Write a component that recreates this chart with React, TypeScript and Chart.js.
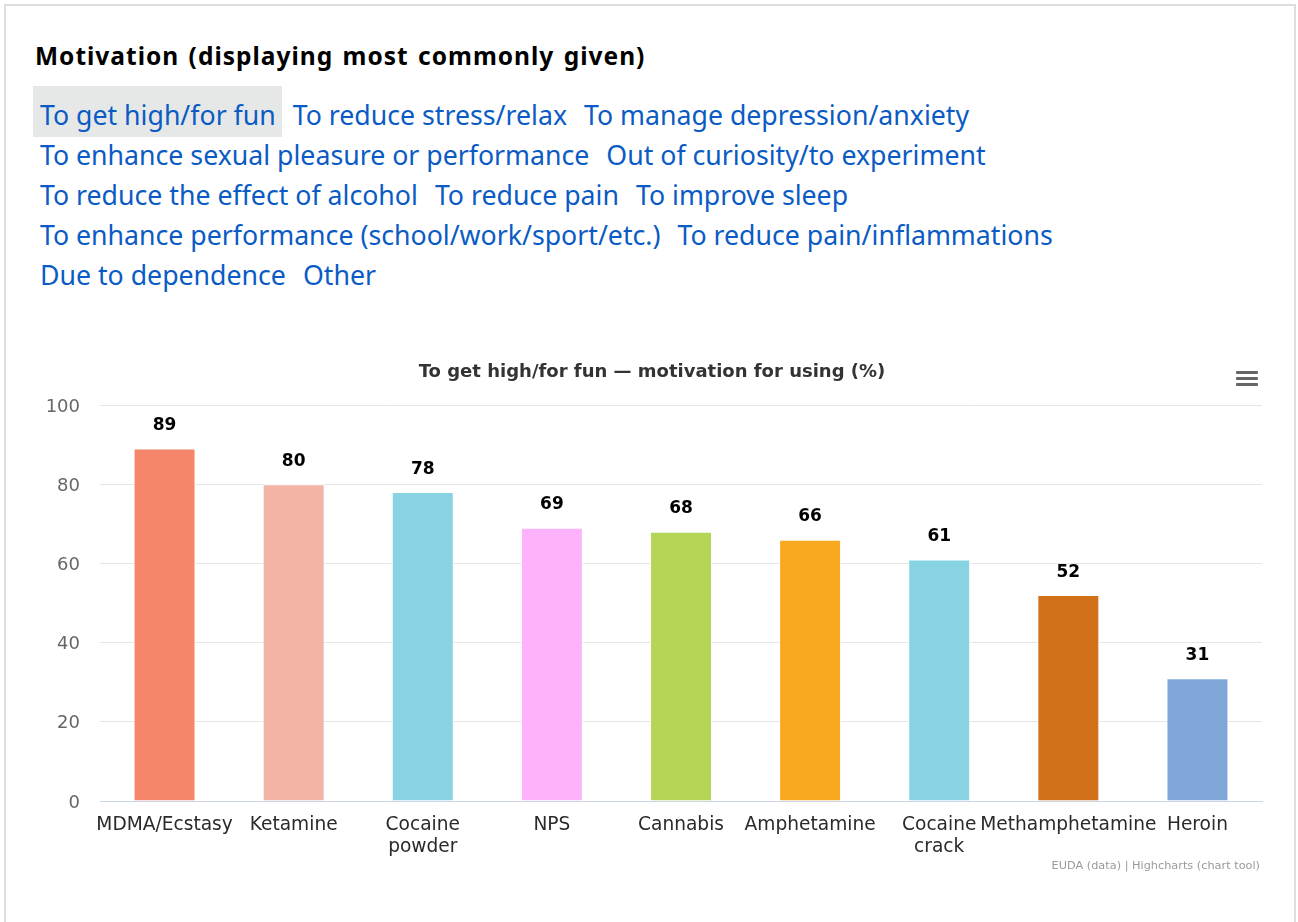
import React, { useEffect, useRef } from "react";
import { Chart, registerables } from "chart.js";

Chart.register(...registerables);

const pageTitle = "Motivation (displaying most commonly given)";
const motivationLines: string[][] = [
  ["To get high/for fun", "To reduce stress/relax", "To manage depression/anxiety"],
  ["To enhance sexual pleasure or performance", "Out of curiosity/to experiment"],
  ["To reduce the effect of alcohol", "To reduce pain", "To improve sleep"],
  ["To enhance performance (school/work/sport/etc.)", "To reduce pain/inflammations"],
  ["Due to dependence", "Other"],
];
const activeMotivation = "To get high/for fun";

const chartTitle = "To get high/for fun \u2014 motivation for using (%)";
const categories: (string | string[])[] = [
  "MDMA/Ecstasy",
  "Ketamine",
  ["Cocaine", "powder"],
  "NPS",
  "Cannabis",
  "Amphetamine",
  ["Cocaine", "crack"],
  "Methamphetamine",
  "Heroin",
];
const values: number[] = [89, 80, 78, 69, 68, 66, 61, 52, 31];
const barColors: string[] = [
  "#f5866a",
  "#f3b4a6",
  "#88d3e2",
  "#fdb2fc",
  "#b5d556",
  "#f9a91f",
  "#88d3e2",
  "#d1711a",
  "#7ea7d8",
];
const yTicks: number[] = [0, 20, 40, 60, 80, 100];
const creditText = "EUDA (data) | Highcharts (chart tool)";

const CANVAS_LEFT = 20;
const CANVAS_TOP = 345;
const CANVAS_W = 1260;
const CANVAS_H = 540;

const overlayPlugin = {
  id: "overlay",
  afterDatasetsDraw(chart: any) {
    const { ctx } = chart;
    ctx.save();
    const meta = chart.getDatasetMeta(0);
    ctx.font = "bold 17px 'DejaVu Sans'";
    ctx.fillStyle = "#000000";
    ctx.textAlign = "center";
    ctx.textBaseline = "middle";
    meta.data.forEach((bar: any, i: number) => {
      ctx.fillText(String(values[i]), bar.x, bar.y - 23);
    });
    ctx.font = "bold 18px 'DejaVu Sans'";
    ctx.fillStyle = "#333333";
    ctx.fillText(chartTitle, 632, 27);
    ctx.font = "11.3px 'DejaVu Sans'";
    ctx.fillStyle = "#999999";
    ctx.textAlign = "right";
    ctx.fillText(creditText, 1240, 521);
    ctx.restore();
  },
};

function BarChart() {
  const ref = useRef<HTMLCanvasElement | null>(null);
  useEffect(() => {
    if (!ref.current) return;
    const chart = new Chart(ref.current, {
      type: "bar",
      data: {
        labels: categories,
        datasets: [
          {
            data: values,
            backgroundColor: barColors,
            borderColor: "#ffffff",
            borderWidth: 1,
            barPercentage: 0.8,
            categoryPercentage: 0.6,
          },
        ],
      },
      options: {
        animation: false,
        responsive: false,
        maintainAspectRatio: false,
        layout: { padding: { top: 60, right: 18, bottom: 0, left: 0 } },
        plugins: {
          legend: { display: false },
          tooltip: { enabled: false },
          title: { display: false },
        },
        scales: {
          x: {
            grid: { display: false, drawTicks: false },
            border: { display: true, color: "#ccd6eb", width: 1 },
            ticks: {
              color: "#2a2a2a",
              font: { family: "'DejaVu Sans'", size: 18.6, lineHeight: 1.19 },
              padding: 13,
              maxRotation: 0,
              autoSkip: false,
            },
            afterFit: (s: any) => {
              s.height = 84;
            },
          },
          y: {
            min: 0,
            max: 100,
            afterBuildTicks: (s: any) => {
              s.ticks = yTicks.map((v) => ({ value: v }));
            },
            grid: {
              drawTicks: false,
              color: (c: any) => (c.tick && c.tick.value === 0 ? "rgba(0,0,0,0)" : "#e6e6e6"),
              lineWidth: 1,
            },
            border: { display: false },
            ticks: {
              color: "#666666",
              font: { family: "'DejaVu Sans'", size: 18 },
              padding: 20,
              labelOffset: 2,
            },
            afterFit: (s: any) => {
              s.width = 80;
            },
          },
        },
      },
      plugins: [overlayPlugin],
    });
    return () => chart.destroy();
  }, []);
  return (
    <canvas
      ref={ref}
      width={CANVAS_W}
      height={CANVAS_H}
      style={{ position: "absolute", left: CANVAS_LEFT, top: CANVAS_TOP, width: CANVAS_W, height: CANVAS_H }}
    />
  );
}

export default function App() {
  return (
    <div style={{ position: "absolute", left: 0, top: 0, width: 1298, height: 922, overflow: "hidden", background: "#fff" }}>
      <div
        style={{
          position: "absolute",
          left: 4,
          top: 4,
          width: 1292,
          height: 940,
          border: "2px solid #dddddd",
          boxSizing: "border-box",
        }}
      />
      <div
        style={{
          position: "absolute",
          left: 35,
          top: 36,
          fontFamily: "'Noto Sans'",
          fontWeight: 700,
          fontSize: 24.5,
          letterSpacing: 1,
          wordSpacing: 2,
          lineHeight: "40px",
          color: "#000",
          whiteSpace: "nowrap",
        }}
      >
        {pageTitle}
      </div>
      {motivationLines.map((line, li) => (
        <div
          key={li}
          style={{
            position: "absolute",
            left: 33,
            top: 95 + li * 40,
            height: 40,
            whiteSpace: "nowrap",
            fontFamily: "'Noto Sans'",
            fontSize: 26.7,
            lineHeight: "40px",
            color: "#0a5bc4",
          }}
        >
          {line.map((t, ti) => (
            <span
              key={ti}
              style={{
                display: "inline-block",
                position: "relative",
                height: 40,
                padding: "0 6px 0 7px",
                marginRight: 4,
                verticalAlign: "top",
              }}
            >
              {t === activeMotivation ? (
                <span style={{ position: "absolute", left: 0, right: 0, top: -9, bottom: -2, background: "#e6e8e8" }} />
              ) : null}
              <span style={{ position: "relative" }}>{t}</span>
            </span>
          ))}
        </div>
      ))}
      <div style={{ position: "absolute", left: 1236, top: 371, width: 22 }}>
        {[0, 1, 2].map((i) => (
          <div key={i} style={{ height: 3, background: "#666", borderRadius: 1, marginBottom: 3 }} />
        ))}
      </div>
      <BarChart />
    </div>
  );
}
